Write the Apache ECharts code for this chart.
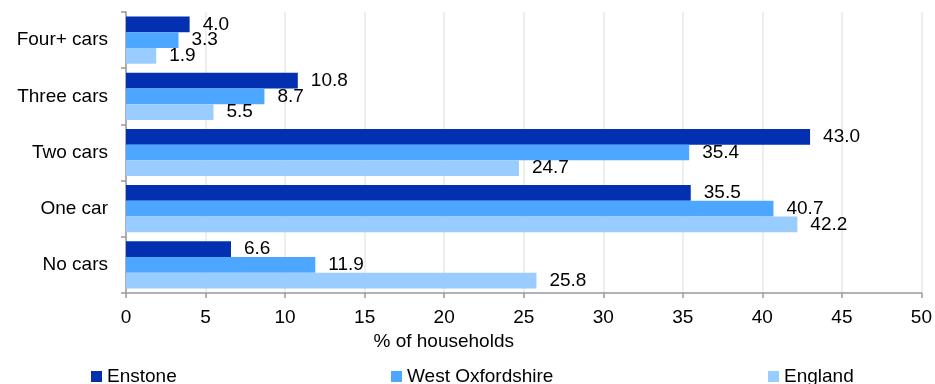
<!DOCTYPE html>
<html lang="en">
<head>
    <meta charset="UTF-8">
    <title>Cars per household</title>
    <script src="https://cdn.jsdelivr.net/npm/echarts@6/dist/echarts.min.js"></script>
</head>
<body style="margin: 0">
<div id="chart" style="width: 935px;height: 384px"></div>
<script>
    // categories bottom -> top
    let categories = ['No cars', 'One car', 'Two cars', 'Three cars', 'Four+ cars']
    let enstone = [6.6, 35.5, 43.0, 10.8, 4.0]
    let westOxon = [11.9, 40.7, 35.4, 8.7, 3.3]
    let england = [25.8, 42.2, 24.7, 5.5, 1.9]
    let seriesNames = ['Enstone', 'West Oxfordshire', 'England']
    let colors = ['#0330B0', '#4DA6FF', '#99CCFF']

    let chart = echarts.init(document.getElementById('chart'));

    let font = 'Liberation Sans, Arial, sans-serif'
    let fs = 19

    function makeSeries(name, data, color) {
        return {
            name: name,
            type: 'bar',
            data: data,
            barGap: '0%',
            barCategoryGap: '16%',
            itemStyle: {color: color},
            label: {
                show: true,
                position: 'right',
                distance: 13,
                formatter: p => p.value.toFixed(1),
                color: '#000',
                fontSize: fs,
                fontFamily: font
            }
        }
    }

    function legendAt(left, name) {
        return {
            left: left,
            top: 362,
            data: [name],
            icon: 'rect',
            itemWidth: 11,
            itemHeight: 11,
            itemGap: 8,
            textStyle: {fontSize: fs, color: '#000', fontFamily: font}
        }
    }

    let option = {
        animation: false,
        legend: [
            legendAt(86, seriesNames[0]),
            legendAt(386, seriesNames[1]),
            legendAt(763, seriesNames[2])
        ],
        grid: {left: 126, right: 11, top: 12, bottom: 91},
        xAxis: {
            type: 'value',
            min: 0,
            max: 50,
            interval: 5,
            name: '% of households',
            nameLocation: 'middle',
            nameGap: 31,
            nameTextStyle: {fontSize: fs, color: '#000', fontFamily: font, padding: [0, 160, 0, 0]},
            axisLine: {show: true, lineStyle: {color: '#999', width: 1.5}},
            axisTick: {show: true, length: 5, lineStyle: {color: '#999', width: 1.5}},
            axisLabel: {fontSize: fs, color: '#000', fontFamily: font, margin: 15},
            splitLine: {show: true, lineStyle: {color: '#e8e8e8', width: 1.5}}
        },
        yAxis: {
            type: 'category',
            data: categories,
            axisLine: {show: true, lineStyle: {color: '#999', width: 1.5}},
            axisTick: {show: true, length: 5, lineStyle: {color: '#999', width: 1.5}},
            axisLabel: {fontSize: fs, color: '#000', fontFamily: font, margin: 18},
            splitLine: {show: false}
        },
        series: [
            makeSeries(seriesNames[0], enstone, colors[0]),
            makeSeries(seriesNames[1], westOxon, colors[1]),
            makeSeries(seriesNames[2], england, colors[2])
        ]
    };
    chart.setOption(option);
</script>
</body>
</html>
